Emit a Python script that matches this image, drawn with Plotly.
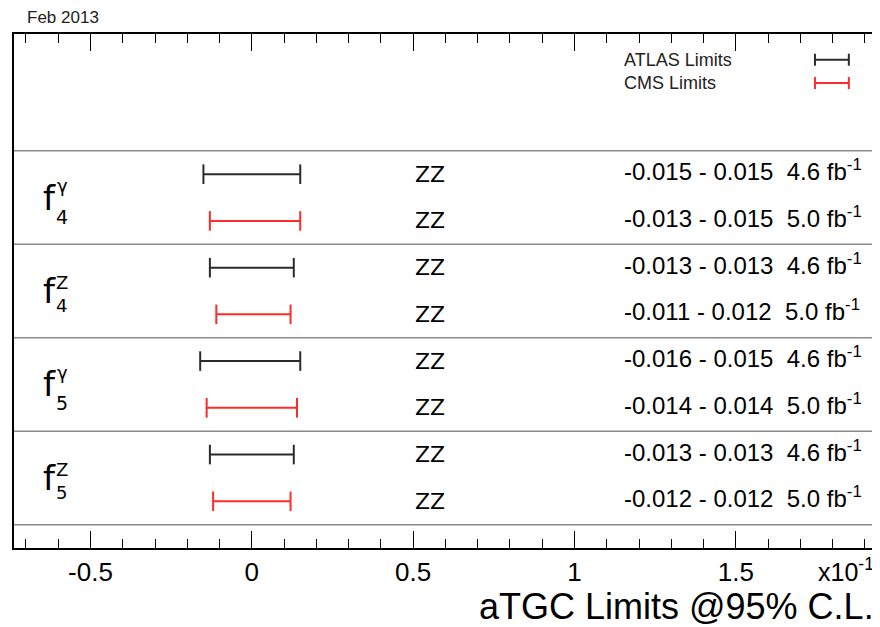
import plotly.graph_objects as go

# ---- data ----
coupling_base = ["f", "f", "f", "f"]
coupling_sup = ["γ", "Z", "γ", "Z"]
coupling_sub = ["4", "4", "5", "5"]
channels = ["ZZ", "ZZ", "ZZ", "ZZ"]
atlas_lo = [-0.015, -0.013, -0.016, -0.013]
atlas_hi = [0.015, 0.013, 0.015, 0.013]
cms_lo = [-0.013, -0.011, -0.014, -0.012]
cms_hi = [0.015, 0.012, 0.014, 0.012]
atlas_lumi = ["4.6", "4.6", "4.6", "4.6"]
cms_lumi = ["5.0", "5.0", "5.0", "5.0"]
experiments = ["ATLAS Limits", "CMS Limits"]
axis_scale = 10  # axis is shown in units of 1e-1
tick_vals = [-0.5, 0, 0.5, 1, 1.5]
tick_text = ["-0.5", "0", "0.5", "1", "1.5"]

# ---- style ----
ATLAS_COLOR = "#2b2b2b"
CMS_COLOR = "#ff2a2a"
FONT = "Liberation Sans, Arial, sans-serif"
LFONT = "DejaVu Sans, sans-serif"
X_RANGE = [-0.737, 1.928]
Y_RANGE = [0, 11]
LABEL_X = -0.648

fig = go.Figure()
annotations = []
shapes = []

n = len(channels)
for i in range(n):
    y_atlas = 2 * (n - i)
    y_cms = y_atlas - 1
    for lo, hi, yy, col, lumi in [
        (atlas_lo[i], atlas_hi[i], y_atlas, ATLAS_COLOR, atlas_lumi[i]),
        (cms_lo[i], cms_hi[i], y_cms, CMS_COLOR, cms_lumi[i]),
    ]:
        fig.add_trace(go.Scatter(
            x=[lo * axis_scale, hi * axis_scale], y=[yy, yy],
            mode="lines+markers",
            line=dict(color=col, width=2),
            marker=dict(symbol="line-ns", size=14, line=dict(color=col, width=2)),
            showlegend=False, hoverinfo="skip",
        ))
        annotations.append(dict(
            x=0.5, y=yy, xref="x", yref="y", xanchor="left", yanchor="middle",
            text=channels[i], showarrow=False,
            font=dict(family=LFONT, size=22, color="black"),
        ))
        annotations.append(dict(
            x=1.146, y=yy, xref="x", yref="y", xanchor="left", yanchor="middle",
            yshift=4,
            text=f"{lo:.3f} - {hi:.3f}\u00a0\u00a0{lumi} fb<sup>-1</sup>",
            showarrow=False,
            font=dict(family=FONT, size=24, color="black"),
        ))
    yc = y_atlas - 0.5
    annotations.append(dict(
        x=LABEL_X, y=yc, xref="x", yref="y", xanchor="left", yanchor="middle",
        text=coupling_base[i], showarrow=False, xshift=-2, yshift=0,
        font=dict(family=LFONT, size=34, color="black"),
    ))
    if coupling_sup[i] == "γ":
        annotations.append(dict(
            x=LABEL_X, y=yc, xref="x", yref="y", xanchor="left", yanchor="middle",
            text=coupling_sup[i], showarrow=False, xshift=12, yshift=12,
            font=dict(family=LFONT, size=18, color="black"),
        ))
        annotations.append(dict(
            x=LABEL_X, y=yc, xref="x", yref="y", xanchor="left", yanchor="middle",
            text=coupling_sub[i], showarrow=False, xshift=11, yshift=-19,
            font=dict(family=LFONT, size=19, color="black"),
        ))
    else:
        # stacked superscript / subscript as one two-line label
        annotations.append(dict(
            x=LABEL_X, y=yc, xref="x", yref="y", xanchor="left", yanchor="middle",
            text=f"{coupling_sup[i]}<br>{coupling_sub[i]}", align="left",
            showarrow=False, xshift=11, yshift=-3,
            font=dict(family=LFONT, size=18, color="black"),
        ))

# group separators
for k in range(n + 1):
    ys = 2 * k + 0.5
    shapes.append(dict(type="line", xref="paper", x0=0, x1=1, yref="y", y0=ys, y1=ys,
                       line=dict(color="#8a8a8a", width=1.5), layer="below"))

# in-plot legend
for label, ly, col in [(experiments[0], 10.45, ATLAS_COLOR), (experiments[1], 9.95, CMS_COLOR)]:
    annotations.append(dict(
        x=1.146, y=ly, xref="x", yref="y", xanchor="left", yanchor="middle",
        text=label, showarrow=False, font=dict(family=FONT, size=18, color="#222"),
    ))
    shapes.append(dict(type="line", xref="x", yref="y", x0=1.745, x1=1.85, y0=ly, y1=ly,
                       line=dict(color=col, width=2)))
    for xx in (1.745, 1.85):
        shapes.append(dict(type="line", xref="x", yref="y", x0=xx, x1=xx,
                           ysizemode="pixel", yanchor=ly, y0=-6, y1=6,
                           line=dict(color=col, width=2)))

annotations.append(dict(
    x=0, y=1, xref="paper", yref="paper", xanchor="left", yanchor="middle",
    xshift=11, yshift=17, text="Feb 2013", showarrow=False,
    font=dict(family=FONT, size=17, color="#222"),
))
annotations.append(dict(
    x=1, y=0, xref="paper", yref="paper", xanchor="right", yanchor="middle",
    xshift=2, yshift=-22, text="x10<sup>-1</sup>", showarrow=False,
    font=dict(family=FONT, size=25, color="black"),
))
annotations.append(dict(
    x=1, y=0, xref="paper", yref="paper", xanchor="right", yanchor="middle",
    xshift=2, yshift=-58, text="aTGC Limits @95% C.L.", showarrow=False,
    font=dict(family=FONT, size=36, color="black"),
))

# page body has an 8px margin: shrink figure so the frame lands where the reference has it
fig.update_layout(
    width=872, height=619,
    margin=dict(l=6, r=4, t=26, b=79),
    paper_bgcolor="white", plot_bgcolor="white",
    annotations=annotations, shapes=shapes,
    showlegend=False,
)
axis_common = dict(
    range=X_RANGE, showgrid=False, zeroline=False,
    ticks="inside", ticklen=17, tickwidth=1, tickcolor="black",
    tickvals=tick_vals,
    minor=dict(dtick=0.1, tick0=0, ticks="inside", ticklen=9, tickwidth=1, tickcolor="black"),
)
fig.update_layout(
    xaxis=dict(
        **axis_common, showline=True, linewidth=2, linecolor="black",
        ticktext=tick_text,
        tickfont=dict(family=FONT, size=26, color="black"),
    ),
    xaxis2=dict(
        **axis_common, overlaying="x", side="top", anchor="y", matches="x",
        showline=True, linewidth=2, linecolor="black", showticklabels=False,
    ),
    yaxis=dict(
        range=Y_RANGE, showgrid=False, zeroline=False, showticklabels=False,
        showline=True, linewidth=2, linecolor="black", mirror=True, ticks="",
    ),
)
# invisible trace that places the top (mirror) axis on the plot
fig.add_trace(go.Scatter(x=[0], y=[-5], xaxis="x2", yaxis="y", mode="markers",
                         marker=dict(opacity=0), showlegend=False, hoverinfo="skip"))

fig.write_html("out.html")
